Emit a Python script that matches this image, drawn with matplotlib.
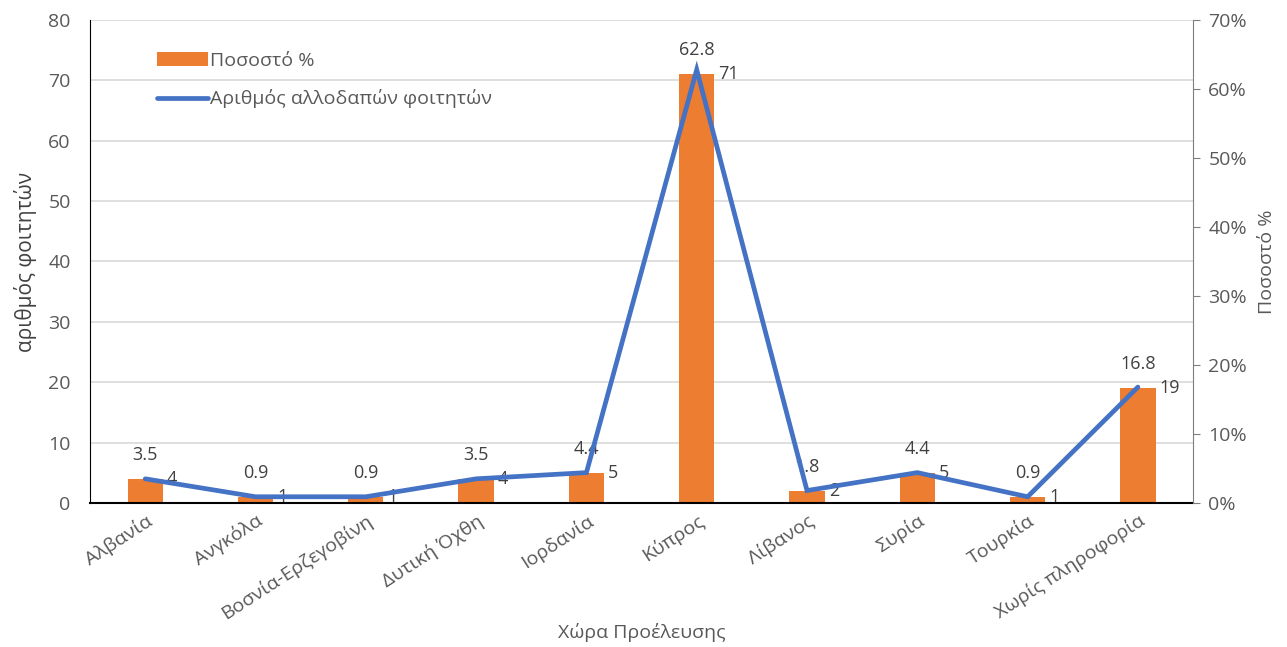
import matplotlib.pyplot as plt
import matplotlib.ticker as mticker

plt.rcParams['font.family'] = ['Open Sans', 'DejaVu Sans']

countries = ['Αλβανία', 'Ανγκόλα', 'Βοσνία-Ερζεγοβίνη', 'Δυτική Όχθη', 'Ιορδανία',
             'Κύπρος', 'Λίβανος', 'Συρία', 'Τουρκία', 'Χωρίς πληροφορία']
students = [4, 1, 1, 4, 5, 71, 2, 5, 1, 19]
percent = [3.5, 0.9, 0.9, 3.5, 4.4, 62.8, 1.8, 4.4, 0.9, 16.8]

grey = '#595959'
orange = '#ED7D31'
blue = '#4472C4'

fig = plt.figure(figsize=(12.87, 6.47), dpi=100)
ax = fig.add_axes([0.070, 0.2226, 0.857, 0.7465])
ax2 = ax.twinx()

x = list(range(len(countries)))
bars = ax.bar(x, students, width=0.32, color=orange, zorder=2, label='Ποσοστό %')
line, = ax2.plot(x, [p / 100 for p in percent], color=blue, lw=3.4,
                 solid_capstyle='round', solid_joinstyle='miter', zorder=3,
                 label='Αριθμός αλλοδαπών φοιτητών')

for xi, s, p in zip(x, students, percent):
    ax.annotate(str(s), (xi + 0.16, s), xytext=(3, 0), textcoords='offset points',
                ha='left', va='center', fontsize=13, color='#404040', zorder=5)
    ax.annotate(str(p), (xi, s), xytext=(0, 11), textcoords='offset points',
                ha='center', va='bottom', fontsize=13, color='#404040', zorder=5)

ax.set_xlim(-0.5, len(countries) - 0.5)
ax.set_ylim(0, 80)
ax.set_yticks(range(0, 81, 10))
ax2.set_ylim(0, 0.70)
ax2.set_yticks([i / 10 for i in range(8)])
ax2.yaxis.set_major_formatter(mticker.PercentFormatter(1.0, decimals=0))

ax.grid(axis='y', color='#d9d9d9', lw=1.2, zorder=0)
ax.set_axisbelow(True)

for a in (ax, ax2):
    a.spines['top'].set_visible(False)
ax.spines['right'].set_visible(False)
ax2.spines['left'].set_visible(False)
ax2.spines['bottom'].set_visible(False)
ax.spines['left'].set_color('black')
ax.spines['bottom'].set_color('black')
ax.spines['bottom'].set_linewidth(1.5)
ax2.spines['right'].set_color('#7f7f7f')

ax.tick_params(axis='y', length=0, labelsize=14, labelcolor=grey, pad=14)
ax.tick_params(axis='x', length=0, labelsize=14, labelcolor=grey, pad=6)
ax2.tick_params(axis='y', length=5, color='#7f7f7f', labelsize=14, labelcolor=grey, pad=6)

ax.set_xticks(x)
ax.set_xticklabels(countries, rotation=33, ha='right', rotation_mode='anchor')

ax.set_ylabel('αριθμός φοιτητών', fontsize=15, color='#404040', labelpad=8)
ax2.set_ylabel('Ποσοστό %', fontsize=14, color=grey, labelpad=8)
ax.set_xlabel('Χώρα Προέλευσης', fontsize=14, color=grey, labelpad=0)

ax2.legend([bars, line], ['Ποσοστό %', 'Αριθμός αλλοδαπών φοιτητών'],
           loc='upper left', bbox_to_anchor=(0.045, 0.97), frameon=False,
           fontsize=14, labelcolor=grey, handlelength=2.6, handletextpad=0.1,
           labelspacing=1.0)

fig.savefig('out.png', dpi=100)
